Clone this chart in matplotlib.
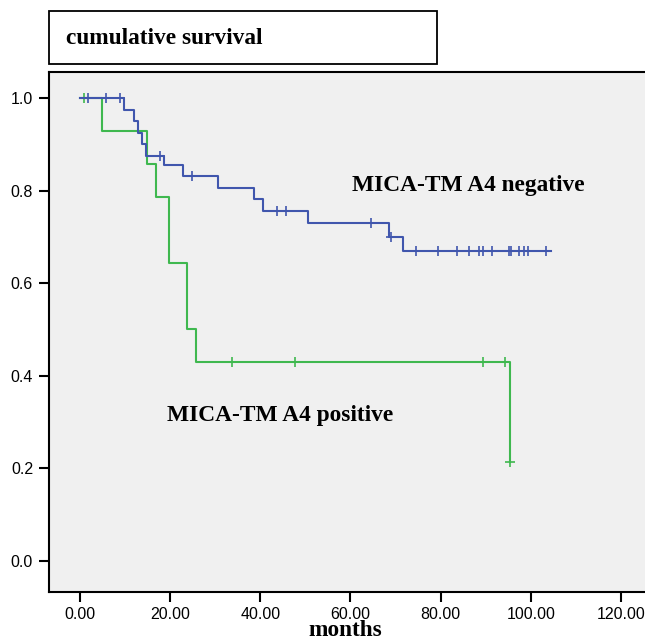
import matplotlib
matplotlib.use("Agg")
import matplotlib.pyplot as plt
from matplotlib.patches import Rectangle
import numpy as np

# --- data ---
neg_times = [0.0, 9.8, 11.9, 12.8, 13.7, 14.7, 18.7, 22.8, 30.7, 38.7, 40.6, 50.6, 68.5, 71.6, 104.4]
neg_surv = [1.0, 0.975, 0.950, 0.925, 0.900, 0.875, 0.856, 0.831, 0.806, 0.781, 0.755, 0.729, 0.700, 0.670, 0.670]
neg_censor = [1.8, 5.8, 8.9, 17.8, 24.8, 43.7, 45.6, 64.6, 68.9, 74.5, 79.5, 83.6, 86.4, 88.5,
              89.5, 91.5, 95.2, 95.6, 97.4, 98.4, 99.4, 103.4]

pos_times = [0.0, 4.8, 14.8, 16.8, 19.8, 23.7, 25.7, 95.5]
pos_surv = [1.0, 0.929, 0.857, 0.786, 0.643, 0.500, 0.429, 0.214]
pos_censor = [0.9, 33.7, 47.6, 89.4, 94.4, 95.5]

x_ticks = [0, 20, 40, 60, 80, 100, 120]
x_ticklabels = ["0.00", "20.00", "40.00", "60.00", "80.00", "100.00", "120.00"]
y_ticks = [0.0, 0.2, 0.4, 0.6, 0.8, 1.0]
y_ticklabels = ["0.0", "0.2", "0.4", "0.6", "0.8", "1.0"]

title_text = "cumulative survival"
label_neg = "MICA-TM A4 negative"
label_pos = "MICA-TM A4 positive"
x_label = "months"

BLUE = "#4056ad"
GREEN = "#3fb84f"
SERIF_SIZE = 16.8


def surv_at(times, surv, t):
    idx = np.searchsorted(times, t, side="right") - 1
    return surv[max(idx, 0)]


fig = plt.figure(figsize=(6.45, 6.43), dpi=100)
fig.patch.set_facecolor("white")
ax = fig.add_axes([49 / 645, 1 - 592 / 643, 598 / 645, 520 / 643])
ax.set_facecolor("#f0f0f0")

ax.step(pos_times, pos_surv, where="post", color=GREEN, lw=1.5, zorder=3)
ax.plot(pos_censor, [surv_at(pos_times, pos_surv, t) for t in pos_censor],
        linestyle="none", marker="+", markersize=7.5, markeredgewidth=1.2, color=GREEN, zorder=3)

ax.step(neg_times, neg_surv, where="post", color=BLUE, lw=1.5, zorder=4)
ax.plot(neg_censor, [surv_at(neg_times, neg_surv, t) for t in neg_censor],
        linestyle="none", marker="+", markersize=7.5, markeredgewidth=1.2, color=BLUE, zorder=4)

ax.set_xlim(-6.9, 125.8)
ax.set_ylim(-0.067, 1.056)

ax.set_xticks(x_ticks)
ax.set_xticklabels(x_ticklabels, fontfamily="Liberation Sans", fontsize=11.5)
ax.set_yticks(y_ticks)
ax.set_yticklabels(y_ticklabels, fontfamily="Liberation Sans", fontsize=11.5)
ax.tick_params(axis="both", direction="out", length=7.5, width=1.5, color="black")
ax.tick_params(axis="y", pad=4)
ax.tick_params(axis="x", pad=3)

for s in ["left", "bottom", "top"]:
    ax.spines[s].set_linewidth(1.5)
    ax.spines[s].set_color("black")
ax.spines["right"].set_visible(False)

fig.text(345 / 645, 1 - 631 / 643, x_label, fontfamily="Liberation Serif", fontweight="bold",
         fontsize=SERIF_SIZE, ha="center", va="center")

ax.text(60.4, 0.81, label_neg, fontfamily="Liberation Serif", fontweight="bold", fontsize=SERIF_SIZE,
        ha="left", va="center", zorder=5)
ax.text(19.2, 0.315, label_pos, fontfamily="Liberation Serif", fontweight="bold", fontsize=SERIF_SIZE,
        ha="left", va="center", zorder=5)

# title box
fig.patches.append(Rectangle((49 / 645, 1 - 64 / 643), 388 / 645, 53 / 643,
                             transform=fig.transFigure, facecolor="white",
                             edgecolor="black", linewidth=1.3))
fig.text(66 / 645, 1 - 39 / 643, title_text, fontfamily="Liberation Serif", fontweight="bold",
         fontsize=SERIF_SIZE, ha="left", va="center")

fig.savefig("out.png", dpi=100)
